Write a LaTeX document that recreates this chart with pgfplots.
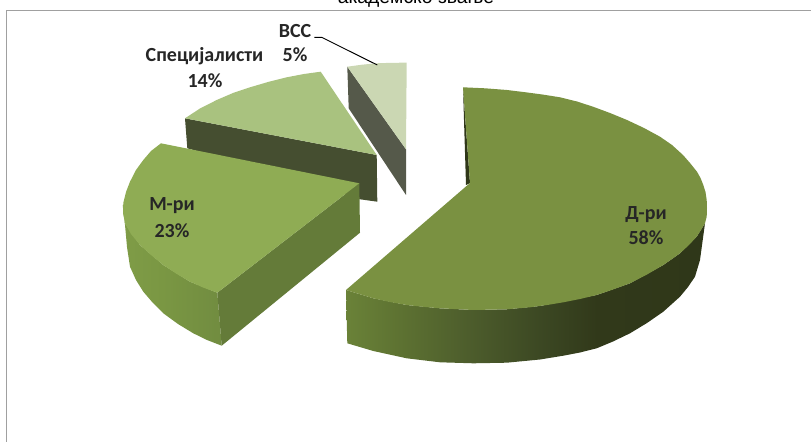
\documentclass[border=0pt]{standalone}
\usepackage{pgfplots}
\pgfplotsset{compat=1.18}
\usepackage{fontspec}
\setmainfont{Carlito}
\newfontfamily\titlefont{Liberation Sans}

\definecolor{frame}{HTML}{A0A0A0}
\definecolor{lbl}{HTML}{262626}
\definecolor{dtop}{HTML}{7A9141}
\definecolor{mtop}{HTML}{8FAC54}
\definecolor{mcut}{HTML}{647B39}
\definecolor{stop}{HTML}{A9C27F}
\definecolor{sside}{HTML}{454E30}
\definecolor{vtop}{HTML}{CBD7B3}
\definecolor{vside}{HTML}{55594A}
\definecolor{da}{HTML}{6A8238}
\definecolor{db}{HTML}{5E7332}
\definecolor{dc}{HTML}{4D5D2C}
\definecolor{dd}{HTML}{3C4823}
\definecolor{de}{HTML}{31391A}
\definecolor{df}{HTML}{2F3719}
\definecolor{ma}{HTML}{7F9C47}
\definecolor{mb}{HTML}{7A9743}
\definecolor{mc}{HTML}{718C40}

% only 25bp..75bp of a shading shows on a path
\pgfdeclarehorizontalshading{dside}{100bp}{
  color(0bp)=(da); color(25bp)=(da); color(32bp)=(db);
  color(42bp)=(dc); color(52bp)=(dd);
  color(60bp)=(de); color(75bp)=(df); color(100bp)=(df)}
\pgfdeclarehorizontalshading{mside}{100bp}{
  color(0bp)=(ma); color(25bp)=(ma);
  color(45bp)=(mb); color(75bp)=(mc); color(100bp)=(mc)}

\tikzset{lab/.style={font=\bfseries\fontsize{15}{17}\selectfont, text=lbl}}

\begin{document}
\begin{tikzpicture}
\begin{axis}[
  scale only axis,
  width=608.25pt, height=331.5pt,
  xmin=0, xmax=811,
  ymin=0, ymax=442,
  y dir=reverse,
  axis lines=none,
  clip=true,
]
% chart frame, cut off by the image at right and bottom
\addplot[frame, line width=1.1pt] coordinates {(6.5,442)(6.5,10.3)(811,10.3)};

% VSS
\addplot[draw=none, fill=vside] coordinates {
  (347.3,66.7)(348.7,108.3)(406,195)(406,149.3)(347.3,66.7)};
\addplot[draw=none, fill=vtop] coordinates {
  (347.3,66.7)(362,64.7)(376.7,63.3)(392,62.8)(406.7,62.7)(406,149.3)(347.3,66.7)};

% Specijalisti
\addplot[draw=none, fill=sside] coordinates {
  (185,118.3)(187.3,148.3)(300,180)(360,199.3)(377.3,201.7)(376.7,155)(185,118.3)};
\addplot[draw=none, fill=stop] coordinates {
  (185,118.3)(200,108.5)(216.7,100)(233,93)(250,87.3)(268,82)(286.7,77.3)(304,74)(320.7,71.7)(376.7,155)(185,118.3)};

% M-ri
\addplot[draw=none, shade, shading=mside] coordinates {
  (122.7,205)(125,225)(127,247)(130,266.7)(136,280)(143.3,291.7)(153,303)(163.3,313.3)(178,324)(193.3,333.3)(207,340)(221.7,345.7)
  (217.3,292.7)(190,281.7)(163.3,265)(140,245)(125,223.3)(122.7,205)};
\addplot[draw=none, fill=mcut] coordinates {
  (217.3,292.7)(221.7,345.7)(360,232.7)(359.3,183.3)(217.3,292.7)};
\addplot[draw=none, fill=mtop] coordinates {
  (161,143.3)(151,151)(143.3,160)(136,170)(130,181.7)(126,192)(123.3,203)(123,213)(125,223.3)(131,234)(140,245)(151,255)(163.3,265)(176,273.5)(190,281.7)(203,287.5)(217.3,292.7)(359.3,183.3)(161,143.3)};

% D-ri
\addplot[draw=none, fill=df] coordinates {
  (463,87.3)(466,185)(470,183)(463,87.3)};
\addplot[draw=none, shade, shading=dside] coordinates {
  (346,290)(373.3,298.3)(406.7,305)(440,308.3)(473.3,310)(506.7,309.3)(540,306)(596.7,295)(630,283.3)(663.3,265)(680,253.3)(696.7,236.7)(705,223.3)
  (703,238)(700,260)(695,276.7)(688,287)(680,296.7)(663.3,311.7)(647,323)(630,333.3)(613,341.5)(596.7,348.3)(580,352.5)(563.3,355.7)(540,359.5)(506.7,362.7)(473.3,363.3)(440,362.3)(406.7,358.3)(373.3,351)(347.3,343.3)(346,290)};
\addplot[draw=none, fill=dtop] coordinates {
  (463,87.3)(485,88.3)(507,90)(525,92.2)(543,94.6)(560,97.3)(577,101.5)(593,106.7)(610,113)(627,120)(644,128)(660,136.7)(672,145)(683,155)(690,163)(697,171.7)(700.5,178)(703.3,185)(705.5,192)(706.7,200)(707,208)(706.7,216.7)(705,223.3)(701,230)(696.7,236.7)(689,245)(680,253.3)(672,259)(663.3,265)(647,274.5)(630,283.3)(613,289.5)(596.7,295)(580,299)(563.3,302.3)(547,305)(530,307.3)(506.7,309.3)(473.3,310)(440,308.3)(423,306.8)(406.7,305)(390,302)(373.3,298.3)(346,290)(470,183)(463,87.3)};

% leader line of VSS
\addplot[black, line width=0.7pt] coordinates {(314.3,37.3)(321.7,37.3)(377.3,65)};

% labels
\node[lab] at (axis cs:295,30.7) {ВСС};
\node[lab] at (axis cs:295,55) {5\%};
\node[lab] at (axis cs:204.5,56) {Специјалисти};
\node[lab] at (axis cs:205,81) {14\%};
\node[lab] at (axis cs:172,206) {М-ри};
\node[lab] at (axis cs:172,231) {23\%};
\node[lab] at (axis cs:646,215) {Д-ри};
\node[lab] at (axis cs:646,238) {58\%};
% title, cut off by the top of the image
\node[overlay, font=\titlefont\fontsize{14.5}{16}\selectfont, anchor=base, text=black] at (axis cs:416,4) {академско звање};
\end{axis}
\pgfresetboundingbox
\path[use as bounding box] (0,0) rectangle (608.25pt,331.5pt);
\end{tikzpicture}
\end{document}
